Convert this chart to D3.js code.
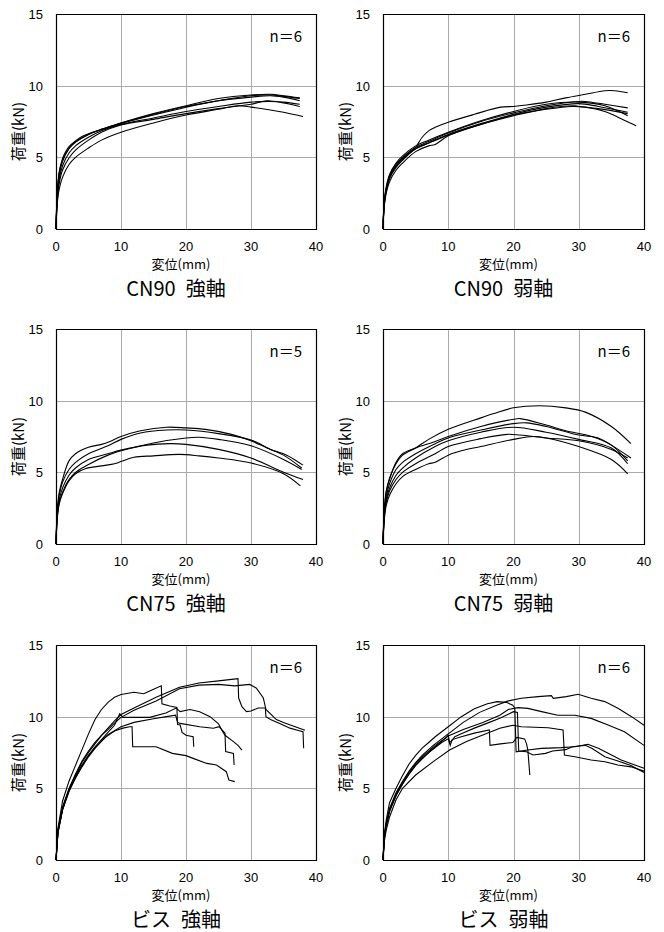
<!DOCTYPE html>
<html>
<head>
<meta charset="utf-8">
<script src="https://cdn.jsdelivr.net/npm/d3@7"></script>
<style>
  body { margin: 0; background: #fff; }
</style>
</head>
<body>
<div id="chart"></div>
<script>
// axis ticks and labels
var xTicks = [0, 10, 20, 30, 40];
var yTicks = [0, 5, 10, 15];
var titles = ["CN90\u2002強軸", "CN90\u2002弱軸", "CN75\u2002強軸", "CN75\u2002弱軸", "ビス\u2002強軸", "ビス\u2002弱軸"];
var nLabels = ["n＝6", "n＝6", "n＝5", "n＝6", "n＝6", "n＝6"];

// load (kN) vs displacement (mm)
var cn90Strong = [
    [[0,0],[0.2,2.6],[0.5,4.0],[1,4.9],[1.5,5.4],[2,5.75],[3,6.15],[4,6.45],[5,6.65],[7,6.95],[10,7.4],[15,8.05],[20,8.6],[25,9.1],[30,9.35],[33,9.4],[35,9.3],[37.5,9.15]],
    [[0,0],[0.2,2.4],[0.5,3.8],[1,4.7],[2,5.6],[3,6.05],[5,6.6],[7,6.95],[10,7.35],[15,7.95],[20,8.5],[25,8.95],[30,9.2],[33,9.3],[35,9.2],[37.5,8.95]],
    [[0,0],[0.2,2.2],[0.5,3.5],[1,4.4],[2,5.3],[3,5.8],[5,6.4],[7,6.85],[10,7.3],[15,7.75],[20,8.2],[25,8.55],[30,8.85],[33,8.9],[35,8.85],[37.5,8.7]],
    [[0,0],[0.2,2.0],[0.5,3.2],[1,4.1],[2,4.95],[3,5.5],[5,6.2],[7,6.75],[10,7.25],[15,7.65],[20,8.05],[25,8.4],[30,8.7],[32.5,8.95],[35,8.8],[37.5,8.55]],
    [[0,0],[0.2,1.8],[0.5,2.8],[1,3.6],[2,4.5],[3,5.0],[5,5.65],[7,6.2],[10,6.75],[15,7.4],[20,7.95],[25,8.35],[28,8.6],[30,8.5],[33,8.3],[35,8.15],[38,7.85]],
    [[0,0],[0.2,2.5],[0.5,3.9],[1,4.8],[2,5.65],[3,6.1],[5,6.6],[7,6.95],[10,7.4],[15,8.0],[20,8.55],[25,8.95],[30,9.3],[33,9.35],[35,9.25],[37.5,9.1]]
];
var cn90Weak = [
    [[0,0],[0.3,2.2],[1,3.6],[2,4.4],[3,4.9],[4,5.3],[5,5.7],[6,6.4],[7,6.85],[8,7.1],[10,7.45],[14,8.0],[18,8.5],[20,8.55],[22,8.65],[25,8.85],[28,9.15],[31,9.4],[34,9.65],[35.5,9.65],[37.5,9.5]],
    [[0,0],[0.3,2.3],[1,3.7],[2,4.5],[3,5.0],[5,5.7],[7,6.1],[10,6.7],[15,7.5],[20,8.1],[25,8.6],[30,8.9],[31,8.9],[34,8.7],[37.5,8.45]],
    [[0,0],[0.3,2.1],[1,3.5],[2,4.3],[3,4.8],[5,5.6],[7,6.0],[10,6.6],[15,7.35],[20,8.0],[25,8.5],[30,8.75],[33,8.55],[37.5,8.15]],
    [[0,0],[0.3,2.0],[1,3.3],[2,4.1],[3,4.6],[5,5.4],[7,5.8],[8,5.9],[10,6.5],[15,7.3],[20,7.9],[25,8.4],[29,8.6],[30,8.55],[33,8.4],[37.5,8.05]],
    [[0,0],[0.3,2.2],[1,3.6],[2,4.4],[3,4.9],[5,5.6],[7,6.0],[10,6.55],[15,7.3],[20,7.95],[25,8.35],[29,8.55],[31,8.5],[34,8.2],[36,7.8],[38.8,7.2]],
    [[0,0],[0.3,2.4],[1,3.8],[2,4.6],[3,5.1],[5,5.8],[7,6.2],[10,6.75],[15,7.55],[20,8.2],[25,8.7],[30,8.85],[34,8.6],[37.5,7.9]]
];
var cn75Strong = [
    [[0,0],[0.2,2.4],[0.5,3.6],[1,4.5],[2,5.8],[3,6.3],[5,6.75],[7,6.95],[8,7.1],[10,7.5],[13,7.9],[17,8.15],[20,8.1],[23,8.0],[27,7.65],[30,7.2],[33,6.6],[35.5,6.2],[38,5.5]],
    [[0,0],[0.2,2.2],[0.5,3.4],[1,4.3],[2,5.2],[3,5.7],[5,6.3],[8,6.85],[10,7.3],[13,7.75],[17,7.95],[20,7.95],[25,7.7],[30,7.25],[33,6.6],[35,6.2],[37.8,5.3]],
    [[0,0],[0.2,2.0],[0.5,3.1],[1,3.9],[2,4.8],[3,5.3],[5,5.9],[8,6.3],[10,6.55],[14,6.9],[17.5,7.0],[20,6.95],[25,6.6],[30,6.0],[35,5.0],[38,4.5]],
    [[0,0],[0.2,1.9],[0.5,2.9],[1,3.6],[2,4.5],[3,5.0],[5,5.55],[8,6.2],[10,6.5],[15,7.05],[20,7.4],[22,7.45],[25,7.3],[30,6.85],[35,5.9],[37.8,5.2]],
    [[0,0],[0.2,1.8],[0.5,2.8],[1,3.5],[2,4.4],[3,4.9],[4.5,5.25],[7,5.45],[9,5.6],[10,5.75],[12,6.05],[15,6.15],[19,6.25],[22,6.15],[25,6.0],[30,5.65],[35,4.9],[37.6,4.05]]
];
var cn75Weak = [
    [[0,0],[0.2,2.4],[0.5,3.7],[1,4.6],[2,5.6],[3,6.2],[5,6.7],[7,7.3],[10,8.0],[15,8.8],[17,9.1],[20,9.5],[24,9.65],[28,9.5],[31,9.2],[35,8.2],[38,7.0]],
    [[0,0],[0.2,2.3],[0.5,3.6],[1,4.5],[2,5.7],[3,6.3],[5,6.7],[8,7.15],[10,7.5],[15,8.2],[20,8.7],[21,8.75],[25,8.3],[28,7.9],[32,7.5],[35,6.9],[37.5,5.8]],
    [[0,0],[0.2,2.1],[0.5,3.3],[1,4.2],[2,5.2],[3,5.7],[5,6.3],[8,7.0],[10,7.4],[15,7.95],[20,8.4],[22,8.45],[25,8.2],[30,7.6],[33,7.4],[35,6.9],[38,6.0]],
    [[0,0],[0.2,2.0],[0.5,3.1],[1,3.9],[2,4.8],[3,5.3],[5,6.0],[8,6.8],[10,7.2],[15,7.8],[20,8.15],[25,7.8],[30,7.3],[35,6.7],[37.5,5.6]],
    [[0,0],[0.2,1.9],[0.5,2.9],[1,3.7],[2,4.5],[3,5.0],[5,5.6],[8,6.3],[10,6.8],[15,7.35],[19,7.65],[21,7.6],[25,7.4],[30,7.2],[35,6.6],[37.5,6.0]],
    [[0,0],[0.2,1.7],[0.5,2.7],[1,3.4],[2,4.2],[3,4.7],[5,5.2],[7,5.6],[8,5.7],[10,6.2],[12,6.5],[15,6.8],[20,7.3],[23,7.5],[25,7.4],[30,6.8],[35,5.9],[37.5,4.9]]
];
var visStrong = [
    [[0,0],[0.3,2.2],[1,4.1],[2,5.5],[3,6.6],[4,7.7],[5,8.8],[6,9.8],[7,10.5],[8,11.0],[9,11.35],[10,11.55],[12,11.7],[13.5,11.6],[14.5,11.8],[16.2,12.15],[16.3,10.9],[17.5,10.75],[18.6,10.65],[18.7,9.45],[19.1,9.42],[19.4,8.9],[20,8.7],[21.1,8.6],[21.2,7.9]],
    [[0,0],[0.3,2.0],[1,3.6],[2,4.9],[3,5.9],[4,6.8],[5,7.5],[6,8.1],[7,8.7],[8,9.2],[9,9.7],[10,10.15],[12,10.6],[15.4,11.35],[19,12.05],[22,12.35],[25,12.5],[27,12.6],[28,12.65],[28.1,11.3],[28.6,10.7],[29.3,10.35],[30,10.4],[31.1,10.6],[32.2,10.6],[32.3,10.0],[33,9.8],[34.5,9.5],[36,9.2],[37,9.07],[38,8.95],[38.1,7.8]],
    [[0,0],[0.3,2.1],[1,3.7],[2,5.0],[3,6.0],[4,6.9],[5,7.6],[6,8.2],[7,8.7],[8,9.1],[9,9.55],[10,9.95],[12,10.45],[15.4,11.1],[19,11.95],[22,12.2],[25,12.25],[27.5,12.15],[29.8,12.25],[30.8,12.0],[31.9,11.3],[32.3,10.5],[33.9,9.8],[35,9.6],[36.8,9.3],[38.3,9.05]],
    [[0,0],[0.3,1.9],[1,3.5],[2,4.9],[3,5.8],[4,6.6],[5,7.3],[6,7.9],[7,8.4],[8,8.9],[9,9.4],[9.8,10.2],[10.3,9.95],[12,9.95],[14.4,9.95],[16.9,10.25],[18.5,10.6],[19.1,10.35],[20.6,10.5],[22.1,10.35],[23.7,10.0],[25,9.5],[25.5,9.07],[26,8.7],[27.3,8.26],[28,8.0],[28.6,7.67]],
    [[0,0],[0.3,1.9],[1,3.5],[2,4.8],[3,5.7],[4,6.5],[5,7.2],[6,7.8],[7,8.3],[8,8.75],[10,9.3],[12,9.6],[15,9.85],[17,10.0],[18.4,10.1],[18.7,9.6],[19.1,9.53],[22.1,9.3],[24.2,9.19],[25.1,9.3],[26,8.84],[26.1,7.56],[27.3,7.44],[27.4,6.63]],
    [[0,0],[0.3,1.9],[1,3.5],[2,4.8],[3,5.8],[4,6.6],[5,7.3],[6,7.8],[7,8.3],[7.7,8.6],[9,9.0],[10.3,9.2],[11.3,9.3],[11.7,9.3],[11.8,7.9],[15.4,7.9],[17.9,7.44],[20,7.28],[21.1,7.09],[23.2,6.74],[24.7,6.63],[26.2,6.16],[26.6,5.58],[27.5,5.47]]
];
var visWeak = [
    [[0,0],[0.2,1.8],[0.5,2.8],[1,4.0],[2,5.0],[3,5.9],[4,6.7],[5,7.3],[6,7.8],[7,8.2],[8,8.6],[10,9.3],[12,10.0],[14,10.55],[16,10.9],[17.5,11.05],[18.9,11.0],[19.9,10.8],[20.2,10.6],[20.4,7.55],[22.2,7.67],[24.3,7.79],[27.3,7.84],[29.4,7.9],[31.4,8.07],[33,7.79],[34.5,7.44],[36.5,6.98],[38.6,6.63],[40,6.4]],
    [[0,0],[0.2,1.6],[0.5,2.6],[1,3.6],[2,4.7],[3,5.5],[4,6.2],[5,6.8],[6,7.3],[7.7,8.0],[10,8.8],[12.3,9.6],[14.8,10.3],[17.4,10.8],[19.2,11.1],[21.2,11.28],[23.75,11.4],[25.8,11.47],[26.1,11.28],[28.1,11.4],[29.9,11.56],[31.9,11.28],[34,11.05],[36,10.58],[38.1,10.0],[40,9.4]],
    [[0,0],[0.2,1.6],[0.5,2.5],[1,3.5],[2,4.6],[3,5.4],[4,6.1],[5,6.7],[6,7.2],[8,8.0],[10,8.65],[12.3,9.1],[15.3,9.6],[17.9,10.1],[19.2,10.5],[20.7,10.63],[22.2,10.58],[24.3,10.35],[26.8,10.1],[29.4,10.1],[31.9,9.88],[34.5,9.42],[37,8.95],[40,8.0]],
    [[0,0],[0.2,1.5],[0.5,2.4],[1,3.4],[2,4.5],[3,5.3],[4,6.0],[5,6.6],[6,7.1],[8,7.9],[9.6,8.5],[10,8.7],[10.2,8.2],[10.5,8.3],[11,8.6],[12,8.8],[14,9.2],[16,9.55],[18,9.9],[20,10.35],[20.6,10.3],[20.8,7.6],[22,7.55],[23,7.33],[24.9,7.44],[26,7.6],[28,7.7],[29,7.9],[30,7.95],[31,8.0],[32,7.8],[34,7.2],[36,6.9],[38,6.6],[40,6.1]],
    [[0,0],[0.2,1.5],[0.5,2.4],[1,3.4],[2,4.5],[3,5.3],[4,6.0],[5,6.6],[7,7.5],[9,8.2],[10,8.45],[10.3,8.0],[10.6,8.4],[12,8.6],[14,8.85],[16.3,9.07],[16.4,8.0],[18,8.1],[19.9,8.2],[20.5,8.55],[21.7,8.45],[22.0,8.1],[22.2,7.67],[22.5,5.93]],
    [[0,0],[0.2,1.3],[0.5,2.1],[1,3.0],[2,4.2],[3,5.0],[5,5.93],[7.7,6.86],[10.2,7.67],[12.8,8.26],[15.3,8.72],[17.9,9.19],[19.9,9.4],[21.2,9.3],[25.3,9.23],[27.6,9.07],[27.8,7.33],[29.4,7.2],[31.9,6.98],[34,6.86],[36,6.63],[38,6.5],[40,6.2]]
];

var panels = [cn90Strong, cn90Weak, cn75Strong, cn75Weak, visStrong, visWeak];

var width = 664, height = 932;
var colLeft = [56, 383], colRight = [316, 644];
var rowTop = [14, 329, 645], rowBottom = [229, 544, 860];
var numFont = "'Liberation Sans', Arial, sans-serif";
var jpFont = "'Noto Sans CJK JP', sans-serif";

var svg = d3.select("#chart").append("svg")
    .attr("width", width)
    .attr("height", height);

panels.forEach(function(data, i) {
    var col = i % 2, row = Math.floor(i / 2);
    var x0 = colLeft[col], x1 = colRight[col];
    var y0 = rowTop[row], y1 = rowBottom[row];

    var x = d3.scaleLinear().domain([0, 40]).range([x0, x1]);
    var y = d3.scaleLinear().domain([0, 15]).range([y1, y0]);

    var g = svg.append("g");

    // grid
    g.selectAll(".vgrid").data(xTicks.slice(1, -1)).enter()
        .append("line")
        .attr("x1", function(d) { return Math.round(x(d)) + 0.5; })
        .attr("x2", function(d) { return Math.round(x(d)) + 0.5; })
        .attr("y1", y0).attr("y2", y1)
        .attr("stroke", "#aaaaaa").attr("stroke-width", 1);
    g.selectAll(".hgrid").data(yTicks.slice(1, -1)).enter()
        .append("line")
        .attr("y1", function(d) { return Math.round(y(d)) + 0.5; })
        .attr("y2", function(d) { return Math.round(y(d)) + 0.5; })
        .attr("x1", x0).attr("x2", x1)
        .attr("stroke", "#aaaaaa").attr("stroke-width", 1);

    // curves
    var line = d3.line()
        .x(function(d) { return x(d[0]); })
        .y(function(d) { return y(d[1]); })
        .curve(row < 2 ? d3.curveCatmullRom.alpha(0.5) : d3.curveLinear);

    g.selectAll(".curve").data(data).enter()
        .append("path")
        .attr("d", line)
        .attr("fill", "none")
        .attr("stroke", "#000")
        .attr("stroke-width", 1.1);

    // frame
    g.append("path")
        .attr("d", "M" + (x0 + 0.5) + "," + (y1 + 0.5) + "V" + (y0 + 0.5) + "H" + (x1 + 0.5) + "V" + (y1 + 0.5) + "Z")
        .attr("fill", "none")
        .attr("stroke", "#000")
        .attr("stroke-width", 1.2);

    // tick labels
    g.selectAll(".ylab").data(yTicks).enter()
        .append("text")
        .attr("x", x0 - 13)
        .attr("y", function(d) { return y(d) + 5; })
        .attr("text-anchor", "end")
        .attr("font-family", numFont)
        .attr("font-size", 13)
        .text(function(d) { return d; });
    g.selectAll(".xlab").data(xTicks).enter()
        .append("text")
        .attr("x", function(d) { return x(d); })
        .attr("y", y1 + 22)
        .attr("text-anchor", "middle")
        .attr("font-family", numFont)
        .attr("font-size", 13)
        .text(function(d) { return d; });

    // axis titles
    g.append("text")
        .attr("x", (x0 + x1) / 2 - 5)
        .attr("y", y1 + 40)
        .attr("text-anchor", "middle")
        .attr("font-family", jpFont)
        .attr("font-size", 13)
        .text("変位(mm)");
    g.append("text")
        .attr("transform", "translate(" + (x0 - 32) + "," + ((y0 + y1) / 2 + 10) + ") rotate(-90)")
        .attr("text-anchor", "middle")
        .attr("font-family", jpFont)
        .attr("font-size", 15)
        .text("荷重(kN)");

    // n label
    g.append("text")
        .attr("x", x1 - 14)
        .attr("y", y0 + 28)
        .attr("text-anchor", "end")
        .attr("font-family", jpFont)
        .attr("font-size", 15)
        .text(nLabels[i]);

    // panel title
    g.append("text")
        .attr("x", (x0 + x1) / 2 - 10)
        .attr("y", y1 + 66.5)
        .attr("text-anchor", "middle")
        .attr("font-family", jpFont)
        .attr("font-size", 20)
        .text(titles[i]);
});
</script>
</body>
</html>
